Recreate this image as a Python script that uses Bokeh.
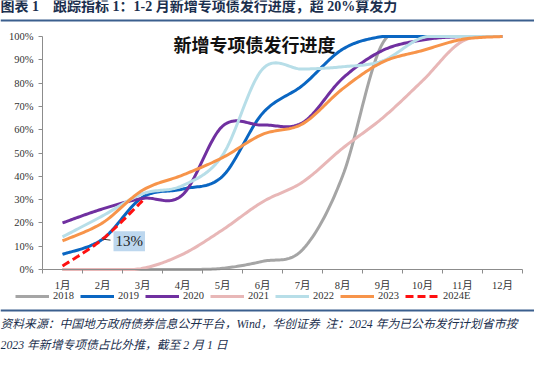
from bokeh.plotting import figure
from bokeh.models import (Range1d, FixedTicker, PrintfTickFormatter, Legend, LegendItem, Label)
from bokeh.embed import file_html
from bokeh.resources import INLINE
import numpy as np

# ---------------- data ----------------
months = [1, 2, 3, 4, 5, 6, 7, 8, 9, 10, 11, 12]
month_labels = ["1月", "2月", "3月", "4月", "5月", "6月", "7月", "8月", "9月", "10月", "11月", "12月"]
s2018 = [0, 0, 0, 0, 0.5, 3.5, 8.5, 40, 97, 100, 100, 100]
s2019 = [6.5, 13, 31, 34.5, 40, 67, 79, 94.5, 100, 100, 100, 100]
s2020 = [20, 26, 30.5, 32, 61.5, 62, 63, 82, 94, 98.5, 100, 100]
s2021 = [0, 0, 0.5, 6.5, 17, 29, 37.5, 52, 65, 81, 98, 100]
s2022 = [14, 23, 32.5, 36, 49, 86, 86, 87, 89.5, 99.5, 100, 100]
s2023 = [12.3, 20, 34, 40.5, 48, 58, 62.5, 77.5, 89, 94, 98.8, 100]
months_2024 = [1, 2, 3]
s2024 = [1.5, 13, 29.5]
series_names = ["2018", "2019", "2020", "2021", "2022", "2023", "2024E"]
callout_text = "13%"
y_ticks = [0, 10, 20, 30, 40, 50, 60, 70, 80, 90, 100]

NB = "\u00a0"
header_text = "图表" + NB + "1" + NB * 4 + "跟踪指标 1：1-2 月新增专项债发行进度，超 20%算发力"
chart_title = "新增专项债发行进度"
note_line1 = "资料来源：中国地方政府债券信息公开平台，Wind，华创证券" + NB * 2 + "注：2024 年为已公布发行计划省市按"
note_line2 = "2023 年新增专项债占比外推，截至 2 月 1 日"

colors = ["#A5A5A5", "#0A66C2", "#7030A0", "#E8B7B7", "#B7DEE8", "#F7944A", "#FF1010"]

SERIF = "Liberation Serif, Noto Sans CJK SC"
NAVY = "#1B2F4E"
RULE = "#3B5F8E"


def smooth(xs, ys, n=24):
    """Excel-like smoothed line drawn through the data points (Bezier, 1/6 tension)."""
    P = np.column_stack([np.asarray(xs, float), np.asarray(ys, float)])
    out = [P[0]]
    m = len(P)
    t = np.linspace(0, 1, n + 1)[1:, None]
    for i in range(m - 1):
        p0 = P[i - 1] if i > 0 else P[i]
        p1, p2 = P[i], P[i + 1]
        p3 = P[i + 2] if i + 2 < m else P[i + 1]
        c1 = p1 + (p2 - p0) / 6.0
        c2 = p2 - (p3 - p1) / 6.0
        seg = (1 - t) ** 3 * p1 + 3 * (1 - t) ** 2 * t * c1 + 3 * (1 - t) * t ** 2 * c2 + t ** 3 * p2
        out.extend(seg)
    arr = np.array(out)
    return arr[:, 0], np.clip(arr[:, 1], 0, 100)


# ---- geometry (canvas pixels, origin top-left of the figure) ----
W, H = 534, 351
PX_L, PX_R = 42, 522          # plot area left/right  (x = 0.5 .. 12.5)
PY_T, PY_B = 36, 269          # plot area 100% / 0%
ux = (PX_R - PX_L) / 12.0
uy = (PY_B - PY_T) / 100.0
XR = Range1d(0.5 - PX_L / ux, 0.5 + (W - PX_L) / ux)
YR = Range1d(-(H - PY_B) / uy, 100 + PY_T / uy)

def dx(px):
    return 0.5 + (px - PX_L) / ux
def dy(py):
    return (PY_B - py) / uy

p = figure(width=W, height=H, x_range=XR, y_range=YR, output_backend="svg",
           toolbar_location=None, min_border=0)
p.min_border_left = p.min_border_right = p.min_border_top = p.min_border_bottom = 0
p.outline_line_color = None
p.grid.visible = False

renderers = []
data_sets = [(months, s2018), (months, s2019), (months, s2020), (months, s2021),
             (months, s2022), (months, s2023)]
for (xs, ys), c in zip(data_sets, colors[:6]):
    sx, sy = smooth(xs, ys)
    renderers.append(p.line(sx, sy, line_color=c, line_width=3, line_join="round"))
sx, sy = smooth(months_2024, s2024)
renderers.append(p.line(sx, sy, line_color=colors[6], line_width=3, line_dash="8 4"))

# axes (placed at the data origin)
AX = "#8C8C8C"
xa = p.xaxis[0]
xa.fixed_location = 0
xa.bounds = (0.5, 12.5)
xa.ticker = FixedTicker(ticks=months, minor_ticks=[m - 0.5 for m in months] + [months[-1] + 0.5])
xa.major_label_overrides = {m: lab for m, lab in zip(months, month_labels)}
xa.major_tick_out = 0
xa.major_tick_in = 0
xa.minor_tick_out = 4
xa.minor_tick_in = 0
xa.minor_tick_line_color = AX
xa.axis_line_color = AX
xa.major_label_standoff = 6
xa.major_label_text_font = SERIF
xa.major_label_text_font_size = "10.5px"
xa.major_label_text_color = "#333333"

ya = p.yaxis[0]
ya.fixed_location = 0.5
ya.bounds = (0, 100)
ya.ticker = FixedTicker(ticks=y_ticks)
ya.formatter = PrintfTickFormatter(format="%d%%")
ya.major_tick_out = 4
ya.major_tick_in = 0
ya.minor_tick_out = 0
ya.minor_tick_in = 0
ya.major_tick_line_color = AX
ya.axis_line_color = AX
ya.major_label_standoff = 5
ya.major_label_text_font = SERIF
ya.major_label_text_font_size = "10.5px"
ya.major_label_text_color = "#333333"

# chart title inside plot
p.add_layout(Label(x=5.8, y=96, text=chart_title, text_font=SERIF, text_font_size="18px",
                   text_font_style="bold", text_color="#111111", text_align="center",
                   text_baseline="middle"))

# callout for 2024E at Feb
cx, cy = months_2024[1], s2024[1]
p.segment(x0=[cx + 0.02], y0=[cy], x1=[cx + 0.2], y1=[cy - 0.4], line_color="#333333", line_width=1)
p.add_layout(Label(x=cx, y=cy, text=callout_text, x_offset=11, y_offset=-2, text_font=SERIF,
                   text_font_size="15px", text_color="#222222", text_baseline="middle",
                   background_fill_color="#BDD7EE", padding=2))

legend = Legend(items=[LegendItem(label=n, renderers=[r]) for n, r in zip(series_names, renderers)],
                orientation="horizontal", location=(15, H - 302),
                glyph_width=34, glyph_height=12, label_standoff=4, spacing=6,
                padding=0, margin=0, border_line_color=None, background_fill_alpha=0,
                label_text_font=SERIF, label_text_font_size="10.5px", label_text_color="#333333",
                label_height=13)
p.add_layout(legend, "center")

# header and footer
p.add_layout(Label(x=dx(0), y=dy(5.5), text=header_text, text_font=SERIF, text_font_size="14px",
                   text_font_style="bold", text_color=NAVY, text_baseline="middle"))
p.segment(x0=[dx(0)], y0=[dy(20)], x1=[dx(W)], y1=[dy(20)], line_color=RULE, line_width=2)
p.segment(x0=[dx(0)], y0=[dy(310)], x1=[dx(W)], y1=[dy(310)], line_color=RULE, line_width=2)
p.add_layout(Label(x=dx(0), y=dy(323), text=note_line1, text_font=SERIF, text_font_size="11.8px",
                   text_font_style="italic", text_color=NAVY, text_baseline="middle"))
p.add_layout(Label(x=dx(0), y=dy(344), text=note_line2, text_font=SERIF, text_font_size="11.8px",
                   text_font_style="italic", text_color=NAVY, text_baseline="middle"))

open("out.html", "w").write(file_html(p, INLINE))
